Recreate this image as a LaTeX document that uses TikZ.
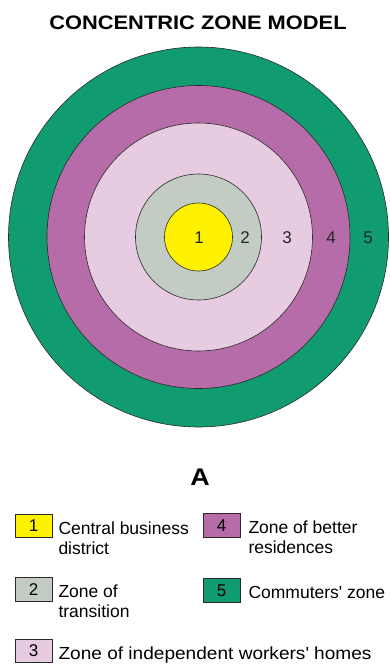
\documentclass[tikz,border=0pt]{standalone}
\usepackage{fontspec}
\setmainfont{Liberation Sans}
\newfontfamily\headfont{Liberation Sans}[FakeStretch=1.12]
\newfontfamily\widekey{Liberation Sans}[FakeStretch=1.09]
\usetikzlibrary{positioning}
\definecolor{cbdyellow}{HTML}{FFF200}
\definecolor{transgrey}{HTML}{C2CCC2}
\definecolor{workpink}{HTML}{E7CBE1}
\definecolor{betterpurple}{HTML}{B56CA9}
\definecolor{commgreen}{HTML}{119B70}
\definecolor{rimline}{HTML}{2A2A2A}
\tikzset{
  zring/.style={draw=rimline, line width=0.6pt},
  znum/.style={font=\fontsize{17}{19}\selectfont, inner sep=0pt, text=black!85},
  keybox/.style={draw=rimline, line width=0.6pt, minimum width=37pt, minimum height=23.5pt, inner sep=0pt, font=\fontsize{17}{19}\selectfont},
  keytext/.style={anchor=north west, align=left, inner sep=0pt, font=\fontsize{17.5}{20}\selectfont, yshift=-7.5pt},
  headtext/.style={font=\headfont\bfseries\fontsize{19.5}{22}\selectfont, inner sep=0pt, anchor=base},
}

\begin{document}
\begin{tikzpicture}[x=1pt, y=-1pt]
  \useasboundingbox (0,0) rectangle (390,664);
  \node[headtext] (title) at (198,29) {CONCENTRIC ZONE MODEL};

  % the five zones, outermost first
  \coordinate (hub) at (198.5,237);
  \filldraw[zring, fill=commgreen] (hub) circle[radius=190pt];
  \filldraw[zring, fill=betterpurple] (hub) circle[radius=151.5pt];
  \filldraw[zring, fill=workpink] (hub) circle[radius=114pt];
  \filldraw[zring, fill=transgrey] (hub) circle[radius=63pt];
  \filldraw[zring, fill=cbdyellow] (hub) circle[radius=34pt];
  \node[znum] (n1) at (199,238) {1};
  \node[znum] (n2) at (245,238) {2};
  \node[znum] (n3) at (287,238) {3};
  \node[znum] (n4) at (331,238) {4};
  \node[znum] (n5) at (368,238) {5};

  \node[headtext, font=\headfont\bfseries\fontsize{24}{26}\selectfont] (caption) at (200,485) {A};

  % key
  \node[keybox, fill=cbdyellow] (key1) at (33.5,525.75) {1};
  \node[right=6pt of key1.north east, keytext] (txt1) {Central business\\district};
  \node[keybox, fill=betterpurple] (key4) at (221.5,525.5) {4};
  \node[right=8pt of key4.north east, keytext] (txt4) {Zone of better\\residences};
  \node[keybox, fill=transgrey] (key2) at (33.5,589.5) {2};
  \node[right=6pt of key2.north east, keytext] (txt2) {Zone of\\transition};
  \node[keybox, fill=commgreen] (key5) at (221.5,590.5) {5};
  \node[right=8pt of key5.north east, keytext] (txt5) {Commuters\textquotesingle{} zone};
  \node[keybox, fill=workpink] (key3) at (33.5,651) {3};
  \node[right=6pt of key3.north east, keytext, font=\widekey\fontsize{17.5}{20}\selectfont] (txt3) {Zone of independent workers\textquotesingle{} homes};
\end{tikzpicture}
\end{document}
